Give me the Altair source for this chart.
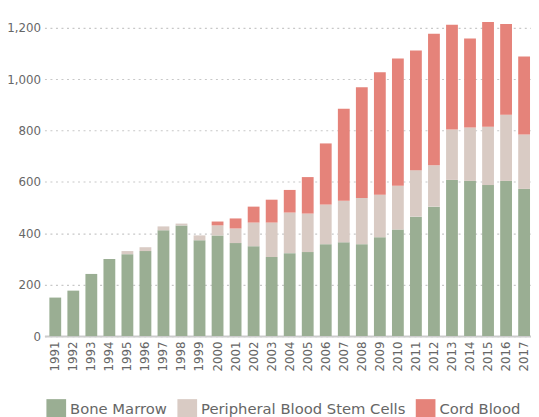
import altair as alt
import pandas as pd

years = [str(y) for y in range(1991, 2018)]
bone_marrow = [150, 177, 242, 300, 319, 331, 412, 431, 373, 392, 362, 350, 308, 323,
               327, 358, 365, 358, 385, 415, 465, 504, 608, 604, 588, 604, 573]
pbsc = [0, 0, 0, 0, 12, 15, 15, 7, 19, 39, 57, 92, 134, 158,
        150, 154, 162, 180, 165, 170, 181, 161, 196, 208, 227, 258, 212]
cord_blood = [0, 0, 0, 0, 0, 0, 0, 0, 0, 15, 39, 62, 89, 88,
              142, 238, 358, 431, 477, 496, 466, 512, 408, 346, 408, 353, 303]
series = ["Bone Marrow", "Peripheral Blood Stem Cells", "Cord Blood"]
colors = ["#9AAE93", "#D9CBC4", "#E5837A"]
y_ticks = [0, 200, 400, 600, 800, 1000, 1200]

rows = []
for i, yr in enumerate(years):
    for k, vals in enumerate([bone_marrow, pbsc, cord_blood]):
        rows.append({"year": yr, "source": series[k], "value": vals[i], "order": k})
df = pd.DataFrame(rows)

FONT = "DejaVu Sans"

chart = alt.Chart(df).mark_bar().encode(
    x=alt.X("year:N", sort=years,
            scale=alt.Scale(range=[0, 498], paddingInner=0.345, paddingOuter=0.273),
            axis=alt.Axis(title=None, labelAngle=270, labelPadding=5, ticks=False,
                          domainColor="#cccccc", domainWidth=2,
                          labelColor="#666666", labelFontSize=12, labelFont=FONT)),
    y=alt.Y("value:Q", stack="zero",
            scale=alt.Scale(domain=[0, 1257.5], nice=False),
            axis=alt.Axis(title=None, values=y_ticks, format=",.0f", ticks=False, domain=False,
                          labelPadding=4, labelColor="#666666", labelFontSize=12, labelFont=FONT,
                          gridColor="#c8c8c8", gridDash=[2, 3.6], gridWidth=1.2)),
    color=alt.Color("source:N", sort=series,
                    scale=alt.Scale(domain=series, range=colors),
                    legend=alt.Legend(title=None, orient="none", legendX=2, legendY=392,
                                      direction="horizontal", symbolType="square",
                                      symbolSize=400, symbolStrokeWidth=0, symbolOpacity=1,
                                      labelFontSize=15, labelFont=FONT, labelColor="#666666",
                                      labelOffset=4, columnPadding=10, padding=0,
                                      labelLimit=400)),
    order=alt.Order("order:Q", sort="ascending"),
).properties(
    width=494, height=328,
    autosize=alt.AutoSizeParams(type="none"),
    padding={"left": 37, "top": 2, "right": 0, "bottom": 79},
).configure_view(stroke=None)

chart.save("out.html", embed_options={"renderer": "svg", "actions": False})
